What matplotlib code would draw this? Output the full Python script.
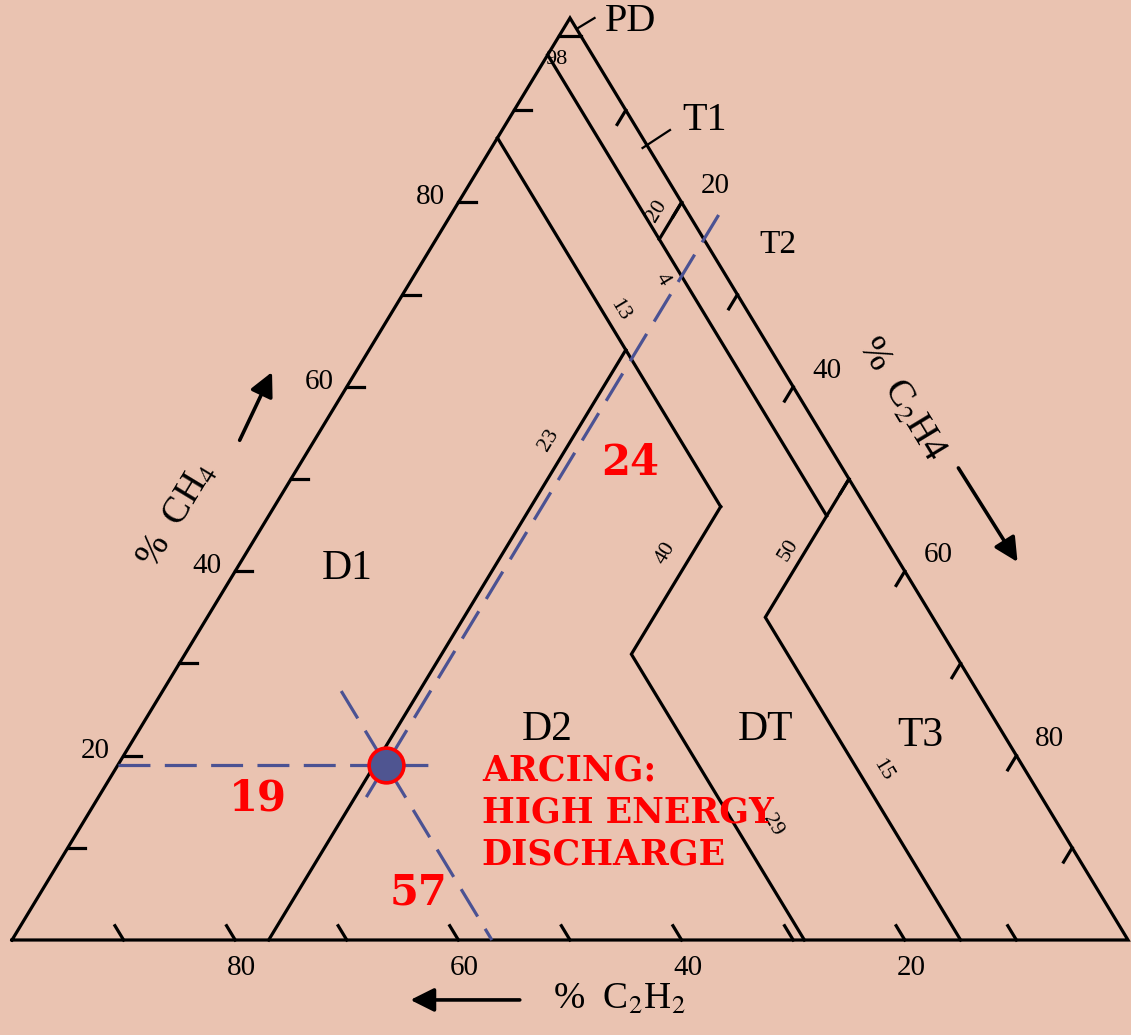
import numpy as np
import matplotlib
matplotlib.use("Agg")
import matplotlib.pyplot as plt

# Duval triangle 1: every point is (CH4, C2H4, C2H2) in percent
ch4_ticks = [10, 20, 30, 40, 50, 60, 70, 80, 90]
labelled_ticks = [20, 40, 60, 80]

# zone boundaries as polylines of ternary points
pd_line = [(98, 0, 2), (98, 2, 0)]
c2h2_4_line = [(96, 0, 4), (46, 50, 4)]
t1_t2_line = [(80, 20, 0), (76, 20, 4)]
t3_line = [(50, 50, 0), (35, 50, 15), (0, 85, 15)]
c2h2_13_line = [(87, 0, 13), (64, 23, 13), (47, 40, 13)]
d1_d2_line = [(64, 23, 13), (0, 23, 77)]
d2_dt_line = [(47, 40, 13), (31, 40, 29), (0, 71, 29)]
zone_lines = [pd_line, c2h2_4_line, t1_t2_line, t3_line,
              c2h2_13_line, d1_d2_line, d2_dt_line]

# sample gas analysis
sample_ch4 = 19
sample_c2h4 = 24
sample_c2h2 = 57

# figure geometry in pixels
W, H = 1131, 1035
LEFT_PX, RIGHT_PX, BASE_PX, APEX_PX = 12, 1128, 940, 18
sx = (RIGHT_PX - LEFT_PX) / 100.0
sy = (BASE_PX - APEX_PX) / 100.0

BG = "#eac3b1"
DASH = "#4b5293"
RED = "#ff0000"

plt.rcParams["font.family"] = ["Liberation Serif", "DejaVu Serif"]
plt.rcParams["mathtext.fontset"] = "stix"


def tern(ch4, c2h4, c2h2=None):
    return c2h4 + ch4 / 2.0, ch4


fig = plt.figure(figsize=(W / 100, H / 100), dpi=100, facecolor=BG)
ax = fig.add_axes([0, 0, 1, 1])
ax.set_facecolor(BG)
ax.set_xlim(-LEFT_PX / sx, (W - LEFT_PX) / sx)
ax.set_ylim(-(H - BASE_PX) / sy, BASE_PX / sy)
ax.axis("off")

ang = np.degrees(np.arctan2(100 * sy, 50 * sx))
lw = 2.3

# outer triangle
outer = [(0, 0, 100), (0, 100, 0), (100, 0, 0), (0, 0, 100)]
xs, ys = zip(*[tern(*p) for p in outer])
ax.plot(xs, ys, color="black", lw=lw, solid_joinstyle="miter", zorder=3)

for line in zone_lines:
    xs, ys = zip(*[tern(*p) for p in line])
    ax.plot(xs, ys, color="black", lw=lw, solid_joinstyle="miter", zorder=3)

# ticks along each side, pointing along the grid direction
d = 1.55
for v in ch4_ticks:
    # left side: CH4
    x0, y0 = tern(v, 0)
    x1, y1 = tern(v, d)
    ax.plot([x0, x1], [y0, y1], color="black", lw=lw, zorder=3)
    # right side: C2H4
    x0, y0 = tern(100 - v, v)
    x1, y1 = tern(100 - v - d, v)
    ax.plot([x0, x1], [y0, y1], color="black", lw=lw, zorder=3)
    # bottom: C2H2
    x0, y0 = tern(0, 100 - v)
    x1, y1 = tern(d, 100 - v - d)
    ax.plot([x0, x1], [y0, y1], color="black", lw=lw, zorder=3)

for v in labelled_ticks:
    x, y = tern(v, 0)
    ax.text(x - 2.5, y + 0.55, str(v), fontsize=21, ha="center", va="center")
    x, y = tern(100 - v, v)
    ax.text(x + 3.0, y + 1.75, str(v), fontsize=21, ha="center", va="center")
    x, y = tern(0, 100 - v)
    ax.text(x + 0.55, y - 3.0, str(v), fontsize=21, ha="center", va="center")

# values written along the zone boundaries
boundary_labels = [
    ("98", (95.5, 1.0), 0),
    ("20", (79.0, 18.3), ang),
    ("4", (71.6, 22.5), -ang),
    ("13", (68.3, 20.3), -ang),
    ("23", (54.2, 21.0), ang),
    ("40", (42.0, 37.6), ang),
    ("50", (42.3, 48.4), ang),
    ("15", (18.4, 68.8), -ang),
    ("29", (12.5, 61.9), -ang),
]
for txt, (c1, c2), rot in boundary_labels:
    x, y = tern(c1, c2)
    ax.text(x, y, txt, fontsize=16, rotation=rot, ha="center", va="center",
            rotation_mode="anchor", zorder=4)

# zone names
zone_names = [("PD", 55.4, 99.6, 29), ("T1", 62.1, 88.9, 29),
              ("T2", 68.6, 75.4, 24), ("D1", 30.0, 40.3, 30),
              ("D2", 48.0, 22.8, 30), ("DT", 67.5, 22.8, 30),
              ("T3", 81.4, 22.2, 30)]
for name, x, y, fs in zone_names:
    ax.text(x, y, name, fontsize=fs, ha="center", va="center")

# leader marks for PD and T1
ax.plot([50.7, 52.2], [98.9, 100.0], color="black", lw=1.6)
ax.plot([56.5, 58.96], [85.9, 87.85], color="black", lw=1.6)

# axis titles with direction arrows
arrow = dict(arrowstyle="-|>,head_length=0.9,head_width=0.45",
             color="black", lw=2.6, shrinkA=0, shrinkB=0, mutation_scale=16)
ax.text(54.4, -6.5, "%  C$_2$H$_2$", fontsize=27, ha="center", va="center")
ax.annotate("", xy=(35.7, -6.5), xytext=(45.5, -6.5), arrowprops=arrow)
ax.text(14.8, 46.0, "%  CH$_4$", fontsize=27, ha="center", va="center",
        rotation=ang)
ax.annotate("", xy=(23.3, 61.6), xytext=(20.4, 54.2), arrowprops=arrow)
ax.text(79.6, 58.6, "%  C$_2$H4", fontsize=27, ha="center", va="center",
        rotation=-ang)
ax.annotate("", xy=(90.1, 41.0), xytext=(84.8, 51.2), arrowprops=arrow)

# construction lines through the sample point
dash = dict(color=DASH, lw=2.3, ls=(0, (10, 4.5)), zorder=5)
h0 = tern(sample_ch4, 0)
h1 = tern(sample_ch4, sample_c2h4 + 4.2)
ax.plot([h0[0], h1[0]], [h0[1], h1[1]], **dash)
a0 = tern(sample_ch4 - 3.5, sample_c2h4)
a1 = tern(100 - sample_c2h4 + 3, sample_c2h4)
ax.plot([a0[0], a1[0]], [a0[1], a1[1]], **dash)
b0 = tern(sample_ch4 + 8, 100 - sample_c2h2 - sample_ch4 - 8)
b1 = tern(0, 100 - sample_c2h2)
ax.plot([b0[0], b1[0]], [b0[1], b1[1]], **dash)

px, py = tern(sample_ch4, sample_c2h4)
ax.plot(px, py, "o", ms=25, mfc="#4f5591", mec=RED, mew=2.6, zorder=6)

red_bold = dict(color=RED, fontweight="bold", family="DejaVu Serif")
ax.text(22.0, sample_ch4 - 3.6, str(sample_ch4), fontsize=30,
        ha="center", va="center", **red_bold)
lx, ly = tern(51.7, sample_c2h4 + 5.5)
ax.text(lx, ly, str(sample_c2h4), fontsize=30, ha="center", va="center",
        **red_bold)
lx, ly = tern(5.2, 100 - sample_c2h2 - 5.2 - 4.0)
ax.text(lx, ly, str(sample_c2h2), fontsize=30, ha="center", va="center",
        **red_bold)

ax.text(42.1, 20.2, "ARCING:\nHIGH ENERGY\nDISCHARGE", fontsize=25,
        ha="left", va="top", linespacing=1.3, zorder=7, **red_bold)

fig.savefig("out.png", dpi=100, facecolor=BG)
